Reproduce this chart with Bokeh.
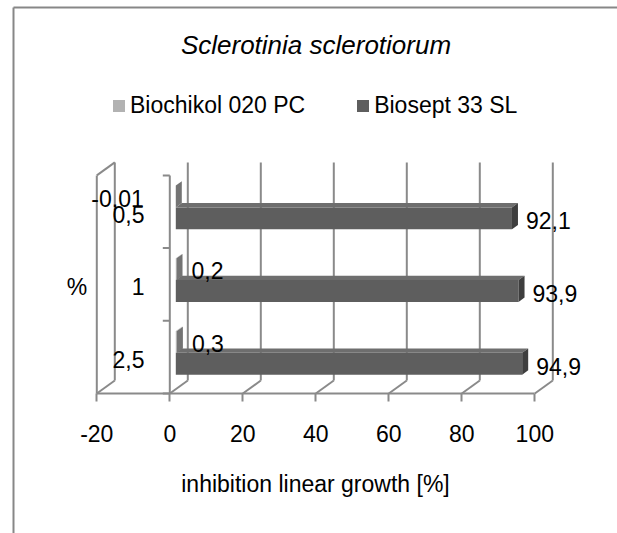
import numpy as np
from bokeh.plotting import figure
from bokeh.models import (Range1d, LinearAxis, FixedTicker, Legend, LegendItem)
from bokeh.core.properties import value
from bokeh.embed import file_html
from bokeh.resources import INLINE

# ---------------- data ----------------
chart_title = "Sclerotinia sclerotiorum"
categories = ["0,5", "1", "2,5"]            # top to bottom
category_axis_title = "%"
series_names = ["Biochikol 020 PC", "Biosept 33 SL"]
biochikol = [-0.01, 0.2, 0.3]
biosept = [92.1, 93.9, 94.9]
value_labels_biochikol = ["-0,01", "0,2", "0,3"]
value_labels_biosept = ["92,1", "93,9", "94,9"]
x_ticks = [-20, 0, 20, 40, 60, 80, 100]
x_axis_title = "inhibition linear growth [%]"

# ---------------- layout / style ----------------
W, H = 617, 533
X0PX, XS = 169.3, 3.65      # pixel of value 0, pixels per unit (front plane)
Y0PX, YS = 393.0, 72.7      # pixel of floor, pixels per category slot
DX, DY = 18.0 / XS, 13.0 / YS   # full depth offset (to back wall) in data units
F1, F2 = 1.0 / 3.0, 2.0 / 3.0   # bar depth range
FONT_NAME = "Liberation Sans"
FONT = value(FONT_NAME)
FS = "23px"
GRID = "#8a8a8a"
C_BCH = "#b2b2b2"
C_BCH_SIDE = "#747474"
C_BCH_TOP = "#c4c4c4"
C_BSP = "#5e5e5e"
C_BSP_SIDE = "#3e3e3e"
C_BSP_TOP = "#6e6e6e"
ADJ = -0.5 / YS             # anchor-to-visual-centre correction (data units)


def px_x(px):
    return (px - X0PX) / XS


def px_y(py):
    return (Y0PX - py) / YS


p = figure(width=W, height=H, min_border=0, toolbar_location=None,
           output_backend="svg", x_axis_type=None, y_axis_type=None,
           x_range=Range1d(px_x(0), px_x(W)), y_range=Range1d(px_y(H), px_y(0)),
           outline_line_color=None, background_fill_color="white",
           border_fill_color="white")
p.grid.visible = False

# chart-area border (left & top)
p.segment(x0=[px_x(13), px_x(13)], y0=[px_y(7), px_y(7)],
          x1=[px_x(13), px_x(W)], y1=[px_y(H), px_y(7)],
          line_color="#878787", line_width=2)

ncat = len(categories)
top = float(ncat)
# back wall gridlines
gx = [t + DX for t in x_ticks]
p.segment(x0=gx, y0=[DY] * len(gx), x1=gx, y1=[top + DY] * len(gx),
          line_color=GRID, line_width=2)
# floor diagonals
p.segment(x0=x_ticks, y0=[0] * len(x_ticks), x1=gx, y1=[DY] * len(x_ticks),
          line_color=GRID, line_width=2)
# left side wall
xl = x_ticks[0]
p.segment(x0=[xl, xl], y0=[0, top], x1=[xl, xl + DX], y1=[top, top + DY],
          line_color=GRID, line_width=2)

# bars
centers = [ncat - 1 - k + 0.5 for k in range(ncat)]
H_BAR = 0.3


def faces(vals, y0s, y1s):
    fr_x, fr_y, tp_x, tp_y, sd_x, sd_y = [], [], [], [], [], []
    for v, y0, y1 in zip(vals, y0s, y1s):
        a, b = min(0.0, v), max(0.0, v)
        fr_x.append([a + F1 * DX, b + F1 * DX, b + F1 * DX, a + F1 * DX])
        fr_y.append([y0 + F1 * DY, y0 + F1 * DY, y1 + F1 * DY, y1 + F1 * DY])
        tp_x.append([a + F1 * DX, b + F1 * DX, b + F2 * DX, a + F2 * DX])
        tp_y.append([y1 + F1 * DY, y1 + F1 * DY, y1 + F2 * DY, y1 + F2 * DY])
        sd_x.append([b + F1 * DX, b + F2 * DX, b + F2 * DX, b + F1 * DX])
        sd_y.append([y0 + F1 * DY, y0 + F2 * DY, y1 + F2 * DY, y1 + F1 * DY])
    return fr_x, fr_y, tp_x, tp_y, sd_x, sd_y


# Biosept (lower bar of each cluster)
bs = faces(biosept, [c - H_BAR for c in centers], centers)
r_bsp = p.patches(bs[0], bs[1], fill_color=C_BSP, line_color=None)
p.patches(bs[2], bs[3], fill_color=C_BSP_TOP, line_color=None)
p.patches(bs[4], bs[5], fill_color=C_BSP_SIDE, line_color=None)
# Biochikol (upper bar of each cluster)
bc = faces(biochikol, centers, [c + H_BAR for c in centers])
r_bch = p.patches(bc[0], bc[1], fill_color=C_BCH, line_color=None)
p.patches(bc[2], bc[3], fill_color=C_BCH_TOP, line_color=None)
p.patches(bc[4], bc[5], fill_color=C_BCH_SIDE, line_color=None)

# category axis (front, at value 0)
p.segment(x0=[0], y0=[0], x1=[0], y1=[top], line_color=GRID, line_width=2)
ky = list(range(ncat + 1))
p.segment(x0=[px_x(X0PX - 7)] * len(ky), y0=ky, x1=[0] * len(ky), y1=ky,
          line_color=GRID, line_width=2)

# category labels
p.text(x=[px_x(144)] * ncat, y=[c - 2.0 / YS + ADJ for c in centers], text=categories,
       text_font=FONT, text_font_size=FS, text_align="right",
       text_baseline="alphabetic", text_color="black")
p.text(x=[px_x(76.5)], y=[px_y(285.5) + ADJ], text=[category_axis_title],
       text_font=FONT, text_font_size=FS, text_align="center",
       text_baseline="alphabetic", text_color="black")

# value labels
lx, ly = [], []
for v, c in zip(biosept, centers):
    lx.append(v + F1 * DX + 14.0 / XS)
    ly.append(c - H_BAR / 2 + F1 * DY - 2.0 / YS + ADJ)
p.text(x=lx, y=ly, text=value_labels_biosept, text_font=FONT,
       text_font_size=FS, text_align="left", text_baseline="alphabetic",
       text_color="black")
lx, ly, la = [], [], []
for v, c in zip(biochikol, centers):
    if v < 0:
        lx.append(v + F1 * DX - 32.0 / XS)
        la.append("right")
    else:
        lx.append(v + F1 * DX + 15.0 / XS)
        la.append("left")
    ly.append(c + H_BAR / 2 + F1 * DY - 1.0 / YS + ADJ)
p.text(x=lx, y=ly, text=value_labels_biochikol, text_font=FONT,
       text_font_size=FS, text_align=la, text_baseline="alphabetic",
       text_color="black")

# title
p.text(x=[px_x(315.5)], y=[px_y(44.5)], text=[chart_title], text_font=FONT,
       text_font_size="26px", text_font_style="italic", text_align="center",
       text_baseline="alphabetic", text_color="black")

# value axis
xaxis = LinearAxis(fixed_location=0, ticker=FixedTicker(ticks=x_ticks),
                   bounds=(x_ticks[0], x_ticks[-1]), axis_label=x_axis_title)
xaxis.major_label_overrides = {t: str(t) for t in x_ticks}
xaxis.axis_line_color = GRID
xaxis.axis_line_width = 2
xaxis.major_tick_line_color = GRID
xaxis.major_tick_line_width = 2
xaxis.major_tick_out = 8
xaxis.major_tick_in = 0
xaxis.minor_tick_line_color = None
xaxis.major_label_text_font = FONT_NAME
xaxis.major_label_text_font_size = FS
xaxis.major_label_text_color = "black"
xaxis.major_label_standoff = 23
xaxis.axis_label_text_font = FONT_NAME
xaxis.axis_label_text_font_size = FS
xaxis.axis_label_text_font_style = "normal"
xaxis.axis_label_text_color = "black"
xaxis.axis_label_standoff = 26
p.add_layout(xaxis, "below")

# legend
legend = Legend(items=[LegendItem(label=series_names[0], renderers=[r_bch]),
                       LegendItem(label=series_names[1], renderers=[r_bsp])],
                location=(111, 414), orientation="horizontal",
                glyph_width=15, glyph_height=15, label_standoff=4, spacing=50,
                padding=0, margin=0, border_line_color=None,
                background_fill_alpha=0, label_text_font=FONT_NAME,
                label_text_font_size=FS, label_text_color="black",
                label_height=15)
p.add_layout(legend, "center")

open("out.html", "w").write(file_html(p, INLINE))
